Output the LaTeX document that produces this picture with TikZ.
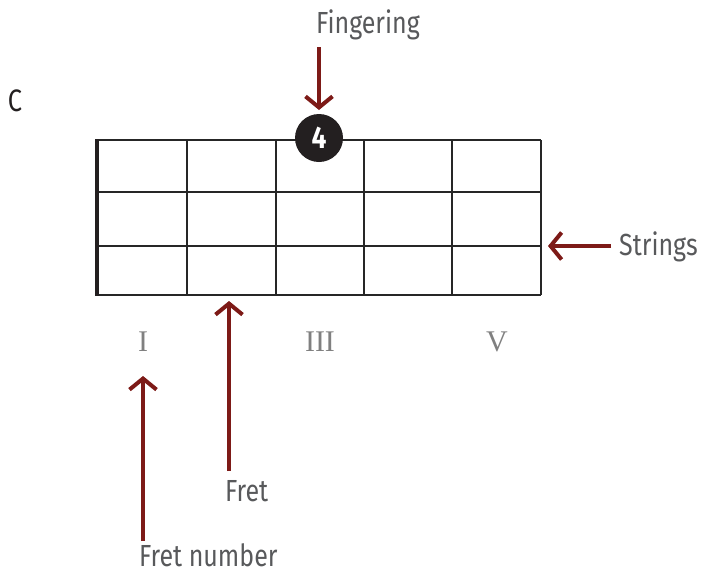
\documentclass[tikz,border=0pt]{standalone}
\usepackage{fontspec}
\setmainfont{Fira Sans}[FakeStretch=0.82]
\newfontfamily\numfont{Liberation Serif}
\newfontfamily\dotfont{Fira Sans Bold}[FakeStretch=0.85]
\usetikzlibrary{arrows.meta}
\definecolor{arrowred}{HTML}{7D1A17}
\definecolor{labelgray}{HTML}{58595B}
\definecolor{numgray}{HTML}{808080}
\definecolor{dotblack}{HTML}{231F20}
\begin{document}
\begin{tikzpicture}[x=1pt,y=-1pt,
  callout/.style={draw=arrowred, line width=4pt, -{Straight Barb[length=11pt,width=27pt]}},
  lbl/.style={text=labelgray, font=\fontsize{30.5}{34}\selectfont, inner sep=0pt},
  romannum/.style={text=numgray, font=\numfont\fontsize{30}{34}\selectfont, inner sep=0pt},
  gridline/.style={draw=black!85, line width=1.4pt},
  fingerdot/.style={circle, fill=dotblack, minimum size=48pt, inner sep=0pt, text=white, font=\dotfont\fontsize{31}{32}\selectfont}]
\useasboundingbox (0,0) rectangle (704,574);
% grid
\foreach \y in {140,192,246,295} \draw[gridline] (97,\y) -- (541,\y);
\foreach \x in {187,276,364,452,541} \draw[gridline] (\x,140) -- (\x,295);
\draw[line width=4pt, draw=dotblack] (97,139.3) -- (97,295.7);
% chord name
\node[font=\fontsize{31}{34}\selectfont, text=dotblack, inner sep=0pt] (chord) at (15,101) {C};
% finger dot
\node[fingerdot] (dot) at (319,138) {4};
% roman numerals
\node[romannum] (n1) at (143,342) {I};
\node[romannum] (n3) at (320,342) {III};
\node[romannum] (n5) at (497,342) {V};
% labels
\node[lbl] (fing) at (368,25) {Fingering};
\node[lbl, anchor=west] (strings) at (619,247) {Strings};
\node[lbl, anchor=west] (fret) at (225,491) {Fret};
\node[lbl, anchor=west] (fretnum) at (139,555) {Fret number};
% arrow endpoints
\coordinate (fingA) at (319,47);
\coordinate (fingB) at (319,110);
\coordinate (strA) at (611,246);
\coordinate (strB) at (548,246);
\coordinate (fretA) at (229,471);
\coordinate (fretB) at (229,301);
\coordinate (fnA) at (143,541);
\coordinate (fnB) at (143,376);
\draw[callout] (fingA) -- (fingB);
\draw[callout] (strA) -- (strB);
\draw[callout] (fretA) -- (fretB);
\draw[callout] (fnA) -- (fnB);
\end{tikzpicture}
\end{document}
